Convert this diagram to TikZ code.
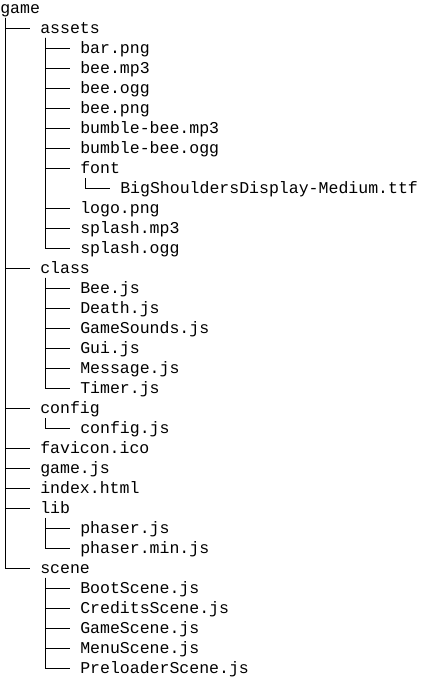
\documentclass[tikz,border=0pt]{standalone}
\usepackage{fontspec}
\setmonofont{Liberation Mono}
\usepackage{tikz}

\tikzset{
  entry/.style={anchor=west, inner sep=0pt, text height=10pt, text depth=2.5pt,
    font=\ttfamily\fontsize{12.4pt}{14pt}\selectfont},
  branch/.style={line width=0.75pt, shorten >=7.5pt},
}

\begin{document}
\begin{tikzpicture}[x=0.75pt, y=-0.75pt]
    \useasboundingbox (0,0) rectangle (427,678);

    % ---------------- ENTRIES ----------------
    \node[entry] (game) at (0,8) {game};

    \node[entry] (assets) at (40,28) {assets};
    \node[entry] (barpng) at (80,48) {bar.png};
    \node[entry] (beemp) at (80,68) {bee.mp3};
    \node[entry] (beeogg) at (80,88) {bee.ogg};
    \node[entry] (beepng) at (80,108) {bee.png};
    \node[entry] (bumblemp) at (80,128) {bumble-bee.mp3};
    \node[entry] (bumbleogg) at (80,148) {bumble-bee.ogg};
    \node[entry] (font) at (80,168) {font};
    \node[entry] (bigshoulders) at (120,188) {BigShouldersDisplay-Medium.ttf};
    \node[entry] (logopng) at (80,208) {logo.png};
    \node[entry] (splashmp) at (80,228) {splash.mp3};
    \node[entry] (splashogg) at (80,248) {splash.ogg};

    \node[entry] (class) at (40,268) {class};
    \node[entry] (beejs) at (80,288) {Bee.js};
    \node[entry] (deathjs) at (80,308) {Death.js};
    \node[entry] (gamesounds) at (80,328) {GameSounds.js};
    \node[entry] (guijs) at (80,348) {Gui.js};
    \node[entry] (messagejs) at (80,368) {Message.js};
    \node[entry] (timerjs) at (80,388) {Timer.js};

    \node[entry] (config) at (40,408) {config};
    \node[entry] (configjs) at (80,428) {config.js};
    \node[entry] (favicon) at (40,448) {favicon.ico};
    \node[entry] (gamejs) at (40,468) {game.js};
    \node[entry] (indexhtml) at (40,488) {index.html};

    \node[entry] (lib) at (40,508) {lib};
    \node[entry] (phaserjs) at (80,528) {phaser.js};
    \node[entry] (phasermin) at (80,548) {phaser.min.js};

    \node[entry] (scene) at (40,568) {scene};
    \node[entry] (bootscene) at (80,588) {BootScene.js};
    \node[entry] (creditsscene) at (80,608) {CreditsScene.js};
    \node[entry] (gamescene) at (80,628) {GameScene.js};
    \node[entry] (menuscene) at (80,648) {MenuScene.js};
    \node[entry] (preloaderscene) at (80,668) {PreloaderScene.js};

    % ---------------- BRANCHES ----------------
    \draw[branch] ([xshift=3.75pt,yshift=-1pt]game.south west) |- (assets.west);
    \draw[branch] ([xshift=3.75pt,yshift=-1pt]game.south west) |- (class.west);
    \draw[branch] ([xshift=3.75pt,yshift=-1pt]game.south west) |- (config.west);
    \draw[branch] ([xshift=3.75pt,yshift=-1pt]game.south west) |- (favicon.west);
    \draw[branch] ([xshift=3.75pt,yshift=-1pt]game.south west) |- (gamejs.west);
    \draw[branch] ([xshift=3.75pt,yshift=-1pt]game.south west) |- (indexhtml.west);
    \draw[branch] ([xshift=3.75pt,yshift=-1pt]game.south west) |- (lib.west);
    \draw[branch] ([xshift=3.75pt,yshift=-1pt]game.south west) |- (scene.west);

    \draw[branch] ([xshift=3.75pt,yshift=-1pt]assets.south west) |- (barpng.west);
    \draw[branch] ([xshift=3.75pt,yshift=-1pt]assets.south west) |- (beemp.west);
    \draw[branch] ([xshift=3.75pt,yshift=-1pt]assets.south west) |- (beeogg.west);
    \draw[branch] ([xshift=3.75pt,yshift=-1pt]assets.south west) |- (beepng.west);
    \draw[branch] ([xshift=3.75pt,yshift=-1pt]assets.south west) |- (bumblemp.west);
    \draw[branch] ([xshift=3.75pt,yshift=-1pt]assets.south west) |- (bumbleogg.west);
    \draw[branch] ([xshift=3.75pt,yshift=-1pt]assets.south west) |- (font.west);
    \draw[branch] ([xshift=3.75pt,yshift=-1pt]assets.south west) |- (logopng.west);
    \draw[branch] ([xshift=3.75pt,yshift=-1pt]assets.south west) |- (splashmp.west);
    \draw[branch] ([xshift=3.75pt,yshift=-1pt]assets.south west) |- (splashogg.west);
    \draw[branch] ([xshift=3.75pt,yshift=-1pt]font.south west) |- (bigshoulders.west);

    \draw[branch] ([xshift=3.75pt,yshift=-1pt]class.south west) |- (beejs.west);
    \draw[branch] ([xshift=3.75pt,yshift=-1pt]class.south west) |- (deathjs.west);
    \draw[branch] ([xshift=3.75pt,yshift=-1pt]class.south west) |- (gamesounds.west);
    \draw[branch] ([xshift=3.75pt,yshift=-1pt]class.south west) |- (guijs.west);
    \draw[branch] ([xshift=3.75pt,yshift=-1pt]class.south west) |- (messagejs.west);
    \draw[branch] ([xshift=3.75pt,yshift=-1pt]class.south west) |- (timerjs.west);

    \draw[branch] ([xshift=3.75pt,yshift=-1pt]config.south west) |- (configjs.west);

    \draw[branch] ([xshift=3.75pt,yshift=-1pt]lib.south west) |- (phaserjs.west);
    \draw[branch] ([xshift=3.75pt,yshift=-1pt]lib.south west) |- (phasermin.west);

    \draw[branch] ([xshift=3.75pt,yshift=-1pt]scene.south west) |- (bootscene.west);
    \draw[branch] ([xshift=3.75pt,yshift=-1pt]scene.south west) |- (creditsscene.west);
    \draw[branch] ([xshift=3.75pt,yshift=-1pt]scene.south west) |- (gamescene.west);
    \draw[branch] ([xshift=3.75pt,yshift=-1pt]scene.south west) |- (menuscene.west);
    \draw[branch] ([xshift=3.75pt,yshift=-1pt]scene.south west) |- (preloaderscene.west);
\end{tikzpicture}
\end{document}
